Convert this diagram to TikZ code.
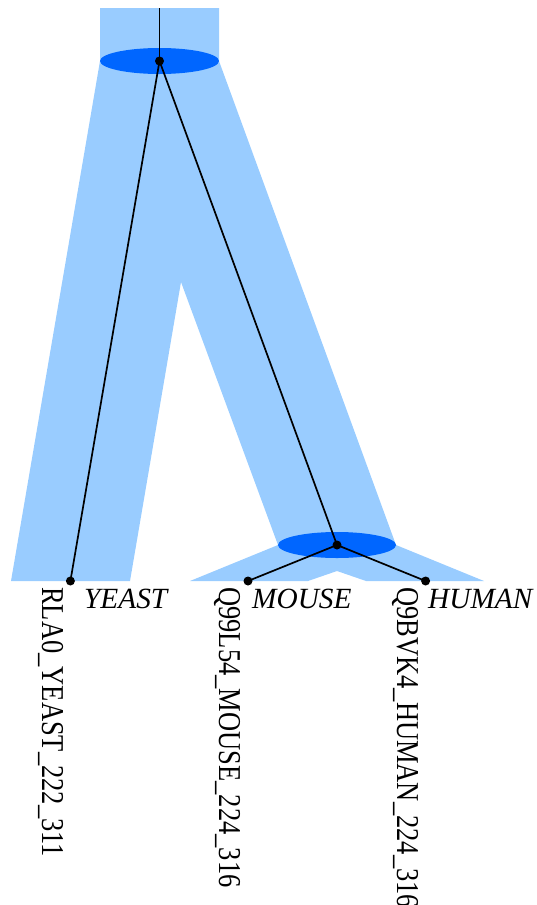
\documentclass[tikz,border=0pt]{standalone}
\usepackage{fontspec}
\setmainfont{Liberation Serif}
\definecolor{treelight}{HTML}{99CCFF}
\definecolor{treedark}{HTML}{0066FF}
\begin{document}
\begin{tikzpicture}[x=1pt,y=-1pt,
  dot/.style={circle,fill=black,inner sep=0pt,minimum size=9pt},
  edge/.style={draw=black,line width=1.7pt},
  genelabel/.style={rotate=-90,anchor=base west,inner sep=0pt,font=\fontsize{26.5}{26.5}\selectfont},
  specieslabel/.style={anchor=base west,inner sep=0pt,font=\fontsize{29.3}{29.3}\selectfont\itshape}]
\useasboundingbox (0,0) rectangle (536,905);
% species tree
\fill[treelight] (100,8) -- (100,61) -- (11,581) -- (130,581) -- (181,282) -- (278,545)
  -- (190,581) -- (308,581) -- (337,571) -- (366,581) -- (484,581) -- (396,545)
  -- (219,61) -- (219,8) -- cycle;
\fill[treedark] (159.5,61) ellipse [x radius=59.5, y radius=13];
\fill[treedark] (337,545) ellipse [x radius=59, y radius=13];
% gene tree
\coordinate (top) at (159.5,8);
\node[dot] (r) at (159.5,61) {};
\node[dot] (mh) at (337,545) {};
\node[dot] (y) at (70.4,581) {};
\node[dot] (m) at (248,581) {};
\node[dot] (h) at (425.6,581) {};
\draw[edge] (top) -- (r.center);
\draw[edge] (r.center) -- (y.center);
\draw[edge] (r.center) -- (mh.center);
\draw[edge] (mh.center) -- (m.center);
\draw[edge] (mh.center) -- (h.center);
% labels
\node[genelabel] (ly) at (42,587) {\scalebox{1}[1.2]{RLA0\_YEAST\_222\_311}};
\node[genelabel] (lm) at (219,587) {\scalebox{1}[1.2]{Q99L54\_MOUSE\_224\_316}};
\node[genelabel] (lh) at (397,587) {\scalebox{1}[1.2]{Q9BVK4\_HUMAN\_224\_316}};
\node[specieslabel] (sy) at (84,608) {YEAST};
\node[specieslabel] (sm) at (252,608) {MOUSE};
\node[specieslabel] (sh) at (428,608) {HUMAN};
\end{tikzpicture}
\end{document}
